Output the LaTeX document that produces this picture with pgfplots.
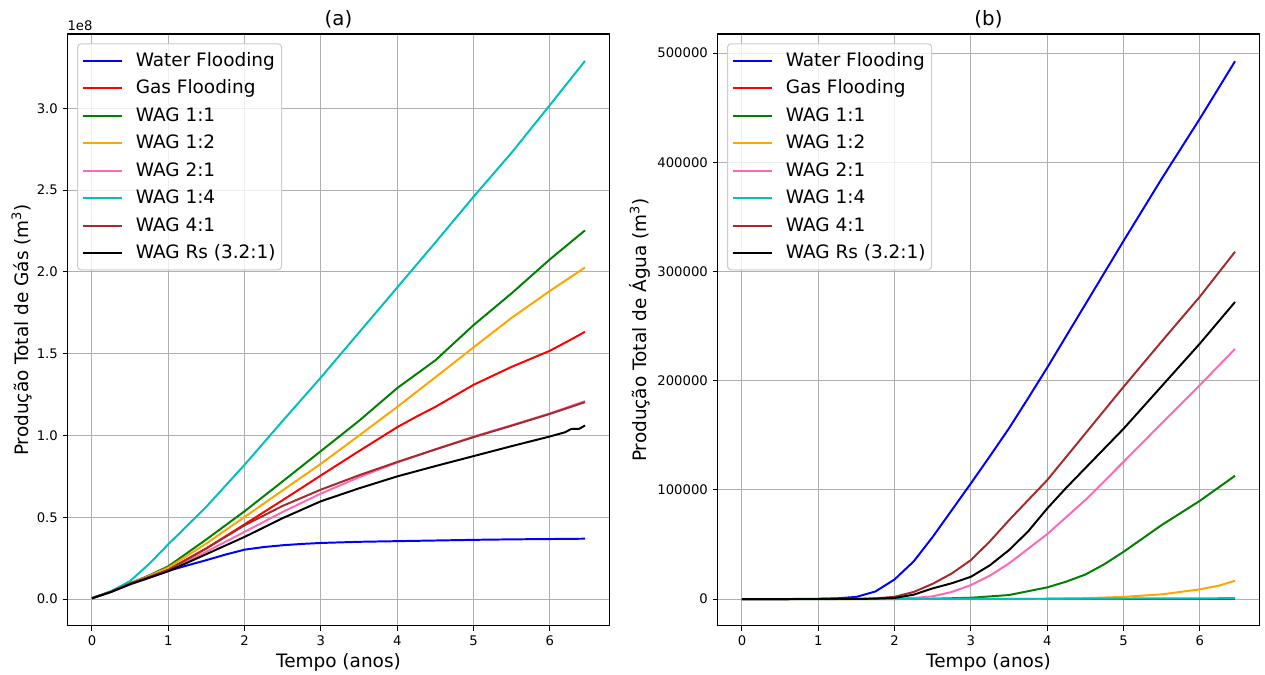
\documentclass[border=0pt]{standalone}
\usepackage{fontspec}
\setmainfont{DejaVu Sans}
\usepackage{pgfplots}
\pgfplotsset{compat=1.18}
\definecolor{mplblue}{rgb}{0,0,1}
\definecolor{mplred}{rgb}{1,0,0}
\definecolor{mplgreen}{rgb}{0,0.5,0}
\definecolor{mplorange}{HTML}{FFA500}
\definecolor{mplpink}{HTML}{FF69B4}
\definecolor{mplcyan}{rgb}{0,0.75,0.75}
\definecolor{mplbrown}{HTML}{A52A2A}
\definecolor{gridgray}{HTML}{B0B0B0}
\definecolor{legedge}{HTML}{CCCCCC}
\pgfplotsset{
  mystyle/.style={
    scale only axis, width=390.5pt, height=426.2pt,
    axis line style={line width=0.76pt},
    tick align=outside, tick pos=left, major tick length=3.3pt,
    every tick/.style={black, line width=0.76pt},
    grid=major, grid style={gridgray, line width=0.76pt},
    xmin=-0.323, xmax=6.783, xtick={0,1,2,3,4,5,6},
    scaled y ticks=false, scaled x ticks=false,
    ticklabel style={font=\fontsize{9.5}{11}\selectfont},
    /pgf/number format/assume math mode=true,
    label style={font=\fontsize{13.3}{16}\selectfont},
    xlabel style={at={(axis description cs:0.5,-0.062)}, anchor=center},
    no markers,
    every axis plot/.append style={line width=1.42pt, line join=round},
    legend cell align=left,
    legend image code/.code={\draw[#1] (0pt,0pt) -- (28pt,0pt);},
    legend style={at={(axis description cs:0,1)}, anchor=north west, xshift=7pt, yshift=-6.7pt,
      draw=legedge, line width=0.76pt, rounded corners=2.5pt, fill=white, fill opacity=0.8,
      text opacity=1, draw opacity=1, font=\fontsize{13.3}{16}\selectfont,
      inner xsep=3pt, inner ysep=5pt, row sep=5.7pt,
      nodes={inner sep=1.3pt},
      /tikz/every even column/.append style={text height=10pt, text depth=3pt},
      /tikz/every odd column/.append style={column sep=8.2pt}},
  }
}
\begin{document}
\begin{tikzpicture}
\useasboundingbox (0,0) rectangle (910.8pt,486pt);
% ---------------- (a) ----------------
\begin{axis}[mystyle, at={(48.46pt,35.3pt)}, anchor=south west,
  ymin=-0.1645, ymax=3.4545, ytick={0,0.5,1,1.5,2,2.5,3},
  yticklabel style={/pgf/number format/.cd, fixed, fixed zerofill, precision=1},
  xlabel={Tempo (anos)},
  ylabel={Produção Total de Gás (m\textsuperscript{3})},
  ylabel style={at={(axis description cs:-0.084,0.5)}, anchor=center},
  extra description/.code={
    \node[anchor=center, inner sep=0pt, font=\fontsize{14.25}{17}\selectfont] at (0.5,1.0253) {(a)};
    \node[anchor=west, inner sep=0pt, font=\fontsize{9.5}{11}\selectfont] at (0,1.0136) {1e8};
  },
]
\addplot[mplblue] coordinates {(0,0.005)(0.25,0.045)(0.5,0.095)(0.75,0.134)(1,0.172)(1.25,0.206)(1.5,0.238)(1.75,0.272)(2,0.302)(2.25,0.318)(2.5,0.329)(2.75,0.337)(3,0.343)(3.5,0.350)(4,0.354)(4.5,0.358)(5,0.362)(5.5,0.365)(6,0.367)(6.46,0.369)};
\addlegendentry{Water Flooding}
\addplot[mplred] coordinates {(0,0.005)(0.25,0.045)(0.5,0.094)(0.75,0.136)(1,0.18)(1.5,0.31)(2,0.457)(2.5,0.605)(3,0.756)(3.5,0.905)(4,1.051)(4.25,1.115)(4.5,1.175)(5,1.31)(5.5,1.42)(6,1.518)(6.25,1.58)(6.46,1.634)};
\addlegendentry{Gas Flooding}
\addplot[mplgreen] coordinates {(0,0.005)(0.25,0.046)(0.5,0.097)(0.75,0.145)(1,0.20)(1.5,0.365)(2,0.537)(2.5,0.72)(3,0.905)(3.5,1.09)(4,1.29)(4.5,1.46)(5,1.675)(5.5,1.87)(6,2.077)(6.46,2.254)};
\addlegendentry{WAG 1:1}
\addplot[mplorange] coordinates {(0,0.005)(0.25,0.045)(0.5,0.095)(0.75,0.142)(1,0.192)(1.5,0.34)(2,0.502)(2.5,0.665)(3,0.827)(3.5,1.0)(4,1.175)(4.5,1.356)(5,1.539)(5.5,1.72)(6,1.884)(6.46,2.027)};
\addlegendentry{WAG 1:2}
\addplot[mplpink] coordinates {(0,0.005)(0.25,0.043)(0.5,0.09)(0.75,0.13)(1,0.172)(1.5,0.29)(2,0.411)(2.5,0.533)(3,0.645)(3.5,0.745)(4,0.835)(4.5,0.915)(5,0.993)(5.5,1.063)(6,1.135)(6.46,1.21)};
\addlegendentry{WAG 2:1}
\addplot[mplcyan] coordinates {(0,0.005)(0.25,0.048)(0.5,0.11)(0.75,0.215)(1,0.335)(1.25,0.45)(1.5,0.565)(2,0.821)(2.5,1.09)(3,1.355)(3.5,1.63)(4,1.905)(4.5,2.18)(5,2.46)(5.5,2.73)(6,3.02)(6.46,3.29)};
\addlegendentry{WAG 1:4}
\addplot[mplbrown] coordinates {(0,0.005)(0.25,0.045)(0.5,0.095)(0.75,0.136)(1,0.178)(1.5,0.31)(2,0.451)(2.5,0.57)(3,0.669)(3.5,0.757)(4,0.838)(4.5,0.915)(5,0.99)(5.5,1.06)(6,1.132)(6.46,1.204)};
\addlegendentry{WAG 4:1}
\addplot[black] coordinates {(0,0.005)(0.25,0.043)(0.5,0.09)(0.75,0.13)(1,0.17)(1.5,0.275)(2,0.38)(2.5,0.495)(3,0.598)(3.5,0.677)(4,0.75)(4.5,0.813)(5,0.874)(5.5,0.935)(6,0.994)(6.2,1.02)(6.28,1.04)(6.38,1.04)(6.46,1.061)};
\addlegendentry{WAG Rs (3.2:1)}
\end{axis}
% ---------------- (b) ----------------
\begin{axis}[mystyle, at={(516.46pt,35.3pt)}, anchor=south west,
  ymin=-24640, ymax=517440, ytick={0,100000,200000,300000,400000,500000},
  yticklabel style={/pgf/number format/.cd, fixed, 1000 sep={}},
  xlabel={Tempo (anos)},
  ylabel={Produção Total de Água (m\textsuperscript{3})},
  ylabel style={at={(axis description cs:-0.1426,0.5)}, anchor=center},
  extra description/.code={
    \node[anchor=center, inner sep=0pt, font=\fontsize{14.25}{17}\selectfont] at (0.5,1.0253) {(b)};
  },
]
\addplot[mplblue] coordinates {(0,0)(0.5,0)(1,200)(1.25,700)(1.5,2000)(1.75,7000)(2,18000)(2.25,34500)(2.5,57000)(2.75,81500)(3,106000)(3.25,131000)(3.5,156500)(3.75,184000)(4,212000)(4.5,270000)(5,328000)(5.5,385000)(6,440000)(6.46,492500)};
\addlegendentry{Water Flooding}
\addplot[mplred] coordinates {(0,0)(3,0)(6.46,0)};
\addlegendentry{Gas Flooding}
\addplot[mplgreen] coordinates {(0,0)(2,0)(2.5,300)(3,1200)(3.5,3700)(4,10700)(4.25,16000)(4.5,22500)(4.75,32000)(5,43300)(5.5,67800)(6,90000)(6.46,112900)};
\addlegendentry{WAG 1:1}
\addplot[mplorange] coordinates {(0,0)(3.5,100)(4,300)(4.5,800)(5,2000)(5.5,4300)(6,8900)(6.25,12300)(6.46,16800)};
\addlegendentry{WAG 1:2}
\addplot[mplpink] coordinates {(0,0)(1.75,100)(2,300)(2.25,1000)(2.5,2500)(2.75,6500)(3,12800)(3.25,21500)(3.5,32700)(4,59500)(4.5,90700)(5,125700)(5.5,161000)(6,196000)(6.46,229000)};
\addlegendentry{WAG 2:1}
\addplot[mplcyan] coordinates {(0,0)(3,100)(4,300)(5,500)(6.46,800)};
\addlegendentry{WAG 1:4}
\addplot[mplbrown] coordinates {(0,0)(1.5,100)(1.75,600)(2,2100)(2.25,6500)(2.5,14000)(2.75,23500)(3,35700)(3.25,53000)(3.5,72300)(4,109000)(4.5,151700)(5,194400)(5.5,236000)(6,277000)(6.46,318000)};
\addlegendentry{WAG 4:1}
\addplot[black] coordinates {(0,0)(1.5,100)(1.75,400)(2,1000)(2.25,4000)(2.5,9800)(2.75,14500)(3,20400)(3.25,31000)(3.5,44900)(3.75,62000)(4,83000)(4.25,102000)(4.5,120000)(5,156000)(5.5,195000)(6,234000)(6.46,272000)};
\addlegendentry{WAG Rs (3.2:1)}
\end{axis}
\end{tikzpicture}
\end{document}
